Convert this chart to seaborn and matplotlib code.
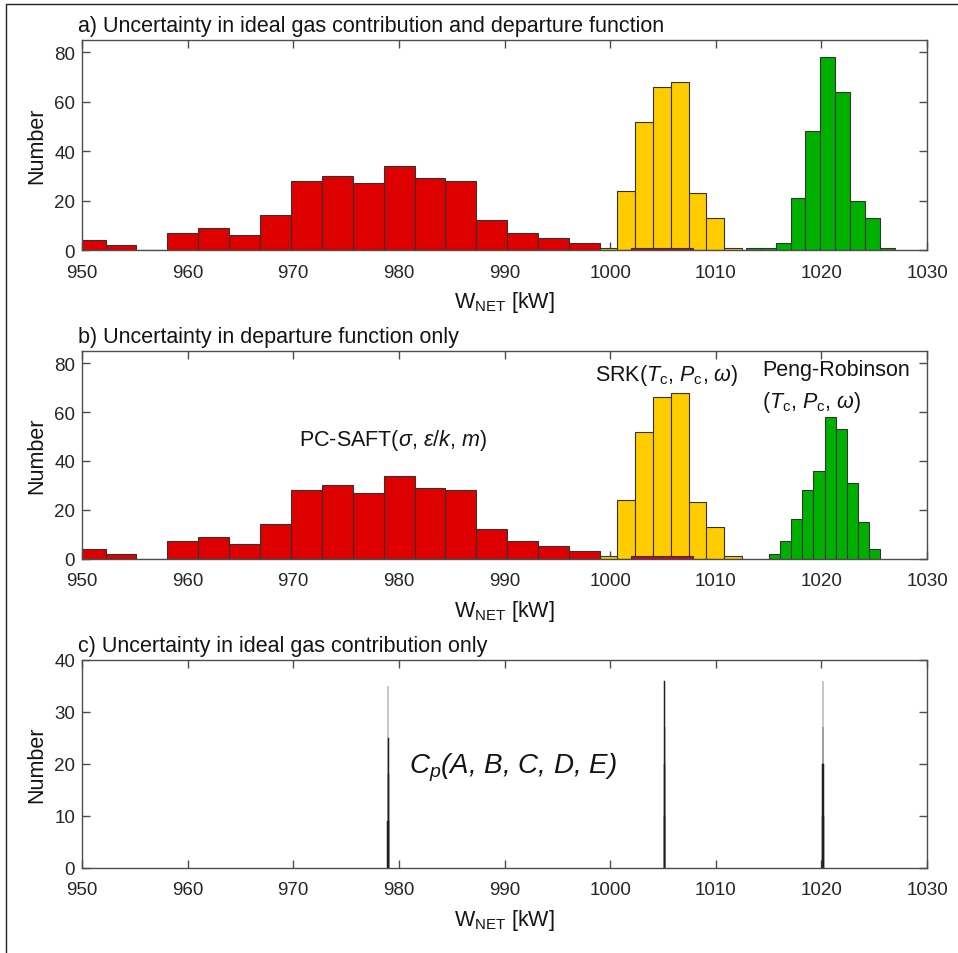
import numpy as np
import pandas as pd
import matplotlib
matplotlib.use("Agg")
import matplotlib.pyplot as plt
from matplotlib.lines import Line2D
import seaborn as sns

# ---------------- data ----------------
red_edges = [949.30, 952.23, 955.15, 958.08, 961.00, 963.93, 966.85, 969.78, 972.70,
             975.63, 978.55, 981.48, 984.40, 987.33, 990.25, 993.18, 996.10, 999.03,
             1001.95, 1004.88, 1007.80]
red_counts = [4, 2, 0, 7, 9, 6, 14, 28, 30, 27, 34, 29, 28, 12, 7, 5, 3, 0, 1, 1]

yellow_edges = [999.00, 1000.69, 1002.37, 1004.06, 1005.74, 1007.43, 1009.11, 1010.80, 1012.48]
yellow_counts = [1, 24, 52, 66, 68, 23, 13, 1]

green_a_edges = [1012.85, 1014.26, 1015.67, 1017.08, 1018.49, 1019.90, 1021.31,
                 1022.72, 1024.13, 1025.54, 1026.95]
green_a_counts = [1, 1, 3, 21, 48, 78, 64, 20, 13, 1]

green_b_edges = [1015.06, 1016.11, 1017.16, 1018.20, 1019.25, 1020.30, 1021.35,
                 1022.40, 1023.44, 1024.49, 1025.54]
green_b_counts = [2, 7, 16, 28, 36, 58, 53, 31, 15, 4]

cp1_edges = [978.90, 978.93, 978.96, 978.99, 979.02, 979.05, 979.08]
cp1_counts = [9, 18, 35, 25, 18, 9]
cp2_edges = [1005.06, 1005.09, 1005.12, 1005.15, 1005.18, 1005.21, 1005.24]
cp2_counts = [10, 20, 36, 27, 20, 10]
cp3_edges = [1020.06, 1020.09, 1020.12, 1020.15, 1020.18, 1020.21, 1020.24]
cp3_counts = [10, 20, 36, 27, 20, 10]

titles = ["a) Uncertainty in ideal gas contribution and departure function",
          "b) Uncertainty in departure function only",
          "c) Uncertainty in ideal gas contribution only"]
x_ticks = [950, 960, 970, 980, 990, 1000, 1010, 1020, 1030]
y_ticks_ab = [0, 20, 40, 60, 80]
y_ticks_c = [0, 10, 20, 30, 40]

RED, YELLOW, GREEN = "#DE0000", "#FFCC00", "#00B000"

# ---------------- style ----------------
sns.set_style("ticks")
plt.rcParams["font.family"] = ["Liberation Sans", "DejaVu Sans"]
plt.rcParams["mathtext.fontset"] = "custom"
plt.rcParams["mathtext.rm"] = "Liberation Sans"
plt.rcParams["mathtext.it"] = "Liberation Sans:italic"
plt.rcParams["mathtext.bf"] = "Liberation Sans:bold"
plt.rcParams["axes.edgecolor"] = "#4d4d4d"
plt.rcParams["axes.linewidth"] = 1.0
plt.rcParams["xtick.color"] = "#4d4d4d"
plt.rcParams["ytick.color"] = "#4d4d4d"
plt.rcParams["xtick.labelcolor"] = "#262626"
plt.rcParams["ytick.labelcolor"] = "#262626"

LABEL_FS = 15.5
TICK_FS = 13.5
TXT = "#141414"

W, H = 958, 954
fig = plt.figure(figsize=(W / 100, H / 100), dpi=100)


def add_axes(top_px, bottom_px):
    left, right = 82, 927
    return fig.add_axes([left / W, 1 - bottom_px / H, (right - left) / W, (bottom_px - top_px) / H])


ax_a = add_axes(41, 251)
ax_b = add_axes(352, 559.5)
ax_c = add_axes(661, 868.5)


def hist(ax, edges, counts, color, lw=0.8, ec="#333333"):
    centers = [(edges[i] + edges[i + 1]) / 2 for i in range(len(counts))]
    df = pd.DataFrame({"x": centers, "n": [float(c) for c in counts]})
    sns.histplot(data=df, x="x", weights="n", bins=list(edges), color=color, alpha=1,
                 edgecolor=ec, linewidth=lw, ax=ax)


for ax, green_e, green_c in [(ax_a, green_a_edges, green_a_counts),
                             (ax_b, green_b_edges, green_b_counts)]:
    hist(ax, yellow_edges, yellow_counts, YELLOW)
    hist(ax, green_e, green_c, GREEN)
    hist(ax, red_edges, red_counts, RED)
    ax.set_ylim(0, 85)
    ax.set_yticks(y_ticks_ab)

for e, c in [(cp1_edges, cp1_counts), (cp2_edges, cp2_counts), (cp3_edges, cp3_counts)]:
    hist(ax_c, e, c, "#202020", lw=0.35, ec="#202020")
ax_c.set_ylim(0, 40)
ax_c.set_yticks(y_ticks_c)

for ax, t in zip([ax_a, ax_b, ax_c], titles):
    ax.set_xlim(950, 1030)
    ax.set_xticks(x_ticks)
    ax.tick_params(axis="both", which="both", direction="in", top=True, right=True,
                   length=6, width=1.0, labelsize=TICK_FS)
    ax.tick_params(axis="x", pad=10)
    ax.tick_params(axis="y", pad=5)
    for s in ax.spines.values():
        s.set_visible(True)
        s.set_color("#4d4d4d")
    ax.set_xlabel(r"W$_{\mathrm{NET}}$ [kW]", fontsize=LABEL_FS, color=TXT, labelpad=6)
    ax.set_ylabel("Number", fontsize=LABEL_FS, color=TXT, labelpad=5)
    ax.annotate(t, xy=(0, 1), xycoords="axes fraction", xytext=(-3, 6.5),
                textcoords="offset points", ha="left", va="baseline",
                fontsize=LABEL_FS, color=TXT)

# annotations
ax_b.text(970.5, 48.8, r"PC-SAFT($\sigma$, $\epsilon/k$, $m$)", fontsize=LABEL_FS,
          ha="left", va="center", color=TXT)
ax_b.text(998.6, 75.3, r"SRK($T_{\mathrm{c}}$, $P_{\mathrm{c}}$, $\omega$)", fontsize=LABEL_FS,
          ha="left", va="center", color=TXT)
ax_b.text(1014.4, 77.6, "Peng-Robinson", fontsize=LABEL_FS, ha="left", va="center", color=TXT)
ax_b.text(1014.4, 64.4, r"($T_{\mathrm{c}}$, $P_{\mathrm{c}}$, $\omega$)", fontsize=LABEL_FS,
          ha="left", va="center", color=TXT)
ax_c.text(981.0, 18.4, r"$C_p$(A, B, C, D, E)", fontsize=20, fontstyle="italic",
          ha="left", va="baseline", color=TXT)

# figure frame (top and left border)
fig.add_artist(Line2D([6 / W, 6 / W, 1.0], [0.0, 1 - 5 / H, 1 - 5 / H],
                      transform=fig.transFigure, color="#222222", linewidth=1.0))

fig.savefig("out.png", dpi=100)
